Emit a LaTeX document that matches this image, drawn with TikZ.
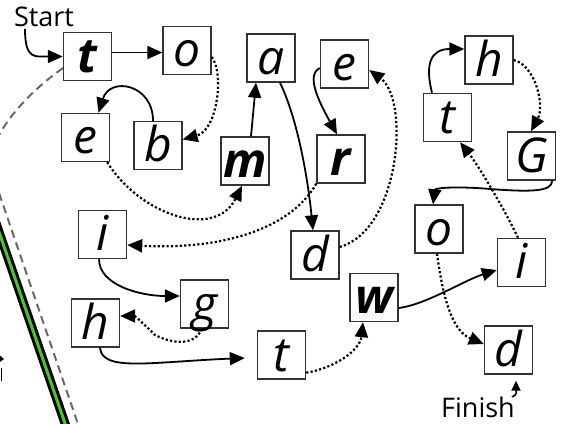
\documentclass[tikz,border=0pt]{standalone}
\usepackage{fontspec}
\setmainfont{Open Sans}
\usetikzlibrary{arrows.meta}
\definecolor{lgreen}{RGB}{70,200,40}
\definecolor{dgray}{RGB}{105,105,105}
\begin{document}
\begin{tikzpicture}[x=1pt,y=-1pt,
  box/.style={draw=black!80, line width=1.4pt, fill=white, minimum width=48pt, minimum height=48pt,
    inner sep=0pt, text height=40pt, text depth=8pt, font=\fontsize{48}{52}\selectfont\itshape},
  boxb/.style={box, font=\fontsize{48}{52}\selectfont\bfseries\itshape},
  lab/.style={inner sep=0pt, font=\fontsize{27}{30}\selectfont},
  sol/.style={line width=1.8pt, -{Triangle[length=15pt,width=13pt]}},
  dot/.style={line width=2.2pt, dash pattern=on 2.2pt off 2.2pt, -{Triangle[length=15pt,width=13pt]}},
  fin/.style={line width=1.6pt, -{Triangle[length=10pt,width=9pt]}},
  dashedgray/.style={draw=dgray, line width=2pt, dash pattern=on 8pt off 5pt}
]
\useasboundingbox (0,0) rectangle (562,423);
\begin{scope}
\clip (0,0) rectangle (562,423);
% left decorations
\draw[dashedgray] (63,68) .. controls (25,95) and (-5,130) .. (-10,160) .. controls (-14,175) and (-7,185) .. (-2,190) -- (80,430);
\draw[black, line width=9pt] (-12,200) -- (68,432);
\draw[lgreen, line width=3pt] (-12,200) -- (68,432);
\fill[black] (-3,353) -- (4,359) -- (-3,364) -- cycle;
\draw[black, line width=1.3pt] (1.5,368) -- (1.5,381);
\end{scope}

% nodes
\node[boxb] (t1) at (87.5,56.5) {t};
\node[box] (o1) at (187,50.5) {o};
\node[box] (a) at (271,58) {a};
\node[box] (e2) at (344.5,64) {e};
\node[box] (h1) at (489,60) {h};
\node[box] (e1) at (85.5,137.5) {e};
\node[box] (b) at (158,145.5) {b};
\node[boxb] (m) at (245,161) {m};
\node[boxb] (r) at (341,159) {r};
\node[box] (t2) at (447.5,117.5) {t};
\node[box] (G) at (531.5,156) {G};
\node[box] (i1) at (102.5,234.5) {i};
\node[box] (d1) at (315,255) {d};
\node[box] (o2) at (439,229) {o};
\node[box] (i2) at (521.5,262.5) {i};
\node[box] (g) at (204.5,304) {g};
\node[box] (h2) at (95.5,323) {h};
\node[boxb] (w) at (374,297.5) {w};
\node[box] (t3) at (281.5,355) {t};
\node[box] (d2) at (508.5,350) {d};
\node[lab] (start) at (44,17) {Start};
\node[lab] (finish) at (478,407) {Finish};
\coordinate (s0) at (25,29);
\coordinate (f0) at (512,397);

% connectors
\draw[sol] (s0) .. controls (25,60) and (35,56.5) .. (t1.west);
\draw[sol] ([yshift=4pt]t1.east) -- ([yshift=-2pt]o1.west);
\draw[dot] ([yshift=-6.5pt]o1.east) .. controls (224,72) and (218,130) .. ([yshift=6pt]b.east);
\draw[sol] ([xshift=-5pt]b.north) .. controls (153,84) and (110,76) .. ([xshift=13pt]e1.north);
\draw[dot] ([xshift=-3pt]e1.south east) .. controls (140,215) and (215,240) .. ([xshift=-3pt]m.south);
\draw[sol] ([xshift=6pt]m.north) -- ([xshift=-15pt]a.south);
\draw[sol] ([xshift=9pt]a.south) .. controls (298,120) and (308,180) .. ([xshift=-2pt]d1.north);
\draw[sol] ([yshift=-4pt]e2.west) .. controls (306,75) and (318,100) .. ([xshift=-4pt]r.north);
\draw[dot] (r.south west) .. controls (290,230) and (220,250) .. ([yshift=-10.5pt]i1.east);
\draw[dot] ([yshift=8pt]d1.east) .. controls (400,230) and (410,100) .. ([yshift=-6pt]e2.east);
\draw[sol] ([xshift=-3.5pt]i1.south) .. controls (99,285) and (140,296) .. ([yshift=8pt]g.west);
\draw[dot] ([xshift=-2.5pt]g.south) .. controls (195,345) and (175,345) .. (155,335) .. controls (145,325) and (135,316) .. ([yshift=7pt]h2.east);
\draw[sol] ([xshift=4.5pt]h2.south) .. controls (102,372) and (150,362) .. ([xshift=-12pt,yshift=-3pt]t3.west);
\draw[dot] ([yshift=7pt]t3.south east) .. controls (335,368) and (360,350) .. ([xshift=-11pt]w.south);
\draw[sol] ([yshift=-10.5pt]w.east) .. controls (425,305) and (465,280) .. ([yshift=-7.5pt]i2.west);
\draw[dot] ([xshift=-3.5pt]i2.north) .. controls (505,210) and (478,165) .. ([xshift=12.5pt]t2.south);
\draw[sol] ([xshift=-15.5pt]t2.north) .. controls (425,65) and (430,49) .. ([yshift=11pt]h1.west);
\draw[dot] (h1.east) .. controls (535,65) and (545,105) .. ([xshift=-0.5pt]G.north);
\draw[sol] ([xshift=-4pt]G.south east) .. controls (552,192) and (530,192) .. (490,189) .. controls (455,186) and (435,188) .. ([xshift=-6pt]o2.north);
\draw[dot] ([xshift=-2pt]o2.south) .. controls (442,290) and (450,330) .. ([yshift=6pt]d2.west);
\draw[fin] (f0) .. controls (518,395) and (516,390) .. ([xshift=7.5pt,yshift=-6pt]d2.south);
\end{tikzpicture}
\end{document}
